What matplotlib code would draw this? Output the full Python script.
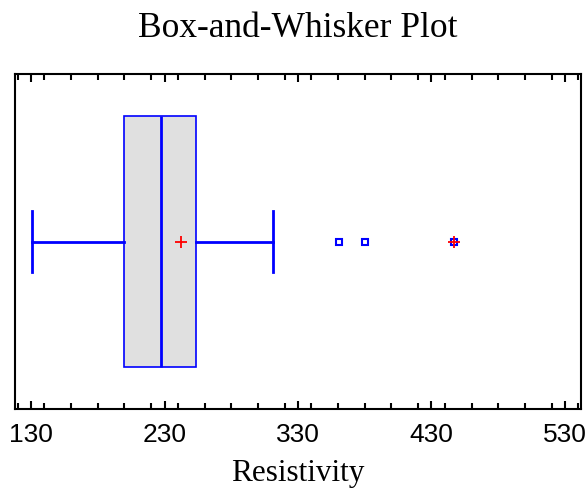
import matplotlib
matplotlib.use("Agg")
import matplotlib.pyplot as plt
from matplotlib.ticker import MultipleLocator

# summary statistics of resistivity
q1 = 200
median = 227
q3 = 253.5
whisker_low = 131
whisker_high = 311
mean = 242
outliers = [360.5, 380.5, 447]
far_outliers = [447]

blue = "#0000ff"

fig = plt.figure(figsize=(5.87, 4.91), dpi=100)
ax = fig.add_axes([15 / 587, 1 - 409 / 491, 566 / 587, 335 / 491])

stats = [dict(med=median, q1=q1, q3=q3, whislo=whisker_low, whishi=whisker_high,
              mean=mean, fliers=outliers)]
ax.bxp(stats, positions=[0.5], widths=0.75, vert=False, patch_artist=True,
       showmeans=True, showfliers=True,
       boxprops=dict(facecolor="#e0e0e0", edgecolor=blue, linewidth=1.2),
       medianprops=dict(color=blue, linewidth=2),
       whiskerprops=dict(color=blue, linewidth=2),
       capprops=dict(color=blue, linewidth=2),
       capwidths=0.185,
       meanprops=dict(marker="+", markeredgecolor="red", markersize=9,
                      markeredgewidth=1.3),
       flierprops=dict(marker="s", markerfacecolor="none", markeredgecolor=blue,
                       markersize=5, markeredgewidth=1.5))
# far-out points get a plus sign on top of the square
ax.plot(far_outliers, [0.5] * len(far_outliers), linestyle="none", marker="+",
        color="red", markersize=9, markeredgewidth=1.3)

ax.set_xlim(118, 542)
ax.set_ylim(0, 1)
ax.set_yticks([])
ax.set_xticks([130, 230, 330, 430, 530])
ax.xaxis.set_minor_locator(MultipleLocator(20))
ax.tick_params(axis="x", which="both", direction="in", top=True, bottom=True,
               width=1.5, pad=10)
ax.tick_params(axis="x", which="major", length=6)
ax.tick_params(axis="x", which="minor", length=4)
for lbl in ax.get_xticklabels():
    lbl.set_family(["Liberation Sans Narrow", "Liberation Sans"])
    lbl.set_fontsize(19)
for s in ax.spines.values():
    s.set_linewidth(1.5)

ax.set_title("Box-and-Whisker Plot", family="Liberation Serif", fontsize=25.5, pad=27)
ax.set_xlabel("Resistivity", family="Liberation Serif", fontsize=22.5, labelpad=9)

fig.savefig("out.png", dpi=100)
